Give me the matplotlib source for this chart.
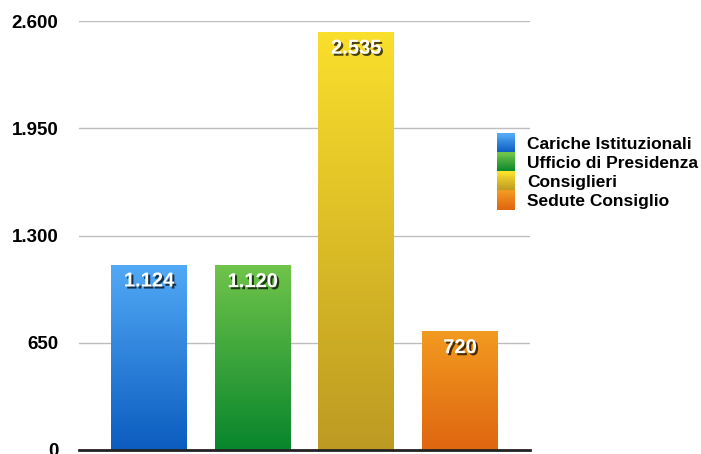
import numpy as np
import matplotlib
matplotlib.use("Agg")
import matplotlib.pyplot as plt
import matplotlib.patheffects as pe
from matplotlib.colors import LinearSegmentedColormap
from matplotlib.legend_handler import HandlerBase
from matplotlib.patches import Rectangle

categories = ["Cariche Istituzionali", "Ufficio di Presidenza", "Consiglieri", "Sedute Consiglio"]
values = [1124, 1120, 2535, 720]
value_labels = ["1.124", "1.120", "2.535", "720"]
yticks = [0, 650, 1300, 1950, 2600]
ytick_labels = ["0", "650", "1.300", "1.950", "2.600"]

# (top, bottom) gradient colours
grads = [("#52aaf6", "#0b5cbf"),
         ("#70c44a", "#08862c"),
         ("#fadf2c", "#bd9a22"),
         ("#f29a20", "#df6610")]

plt.rcParams["font.family"] = ["Liberation Sans", "DejaVu Sans"]
plt.rcParams["font.weight"] = "bold"

fig = plt.figure(figsize=(7.01, 4.54), dpi=100)
ax = fig.add_axes([79 / 701, 1 - 450 / 454, (530 - 79) / 701, (450 - 21) / 454])

ax.set_yticks(yticks)
ax.set_yticklabels(ytick_labels, fontsize=13.5, fontweight="bold")
ax.set_xticks([])
ax.tick_params(axis="y", length=0, pad=15)
ax.grid(axis="y", color="#bdbdbd", lw=1)
ax.set_axisbelow(True)
for s in ["top", "right", "left"]:
    ax.spines[s].set_visible(False)
ax.spines["bottom"].set_linewidth(2)
ax.spines["bottom"].set_color("#222222")

width = 0.73
grad_img = np.linspace(1, 0, 256).reshape(-1, 1)
shadow = [pe.withSimplePatchShadow(offset=(1.5, -1.5), shadow_rgbFace="black", alpha=0.7)]
for i, (v, lab, (top, bot)) in enumerate(zip(values, value_labels, grads)):
    bars = ax.bar(i, v, width=width, color="none", zorder=2)
    rect = bars[0]
    cmap = LinearSegmentedColormap.from_list(f"g{i}", [bot, top])
    im = ax.imshow(grad_img, cmap=cmap, aspect="auto", origin="upper",
                   extent=[i - width / 2, i + width / 2, 0, v], zorder=2)
    im.set_clip_path(rect)
    ax.text(i, v - 42, lab, ha="center", va="top", color="white",
            fontsize=14.5, fontweight="bold", zorder=4, path_effects=shadow)
ax.set_xlim(-0.675, 3.675)
ax.set_ylim(0, 2600)


class GradHandler(HandlerBase):
    def __init__(self, top, bot):
        super().__init__()
        self.top, self.bot = top, bot

    def create_artists(self, legend, orig_handle, xdescent, ydescent, width, height, fontsize, trans):
        cmap = LinearSegmentedColormap.from_list("h", [self.bot, self.top])
        # stretch a little so the swatches touch each other
        y0 = -ydescent - 0.8
        h = height + 1.6
        n = 20
        arts = []
        for k in range(n):
            r = Rectangle((-xdescent, y0 + h * k / n), width, h / n + 0.3,
                          facecolor=cmap(k / (n - 1)), edgecolor="none", transform=trans)
            arts.append(r)
        return arts


handles = [Rectangle((0, 0), 1, 1) for _ in categories]
hmap = {h: GradHandler(t, b) for h, (t, b) in zip(handles, grads)}
leg = fig.legend(handles, categories, handler_map=hmap, loc="upper left",
                 bbox_to_anchor=(483 / 701, 1 - 121 / 454), frameon=False,
                 prop={"size": 12.5, "weight": "bold"}, handlelength=1.05, handleheight=1.1,
                 labelspacing=0.1, handletextpad=0.7, borderpad=0.3)

fig.savefig("out.png", dpi=100)
